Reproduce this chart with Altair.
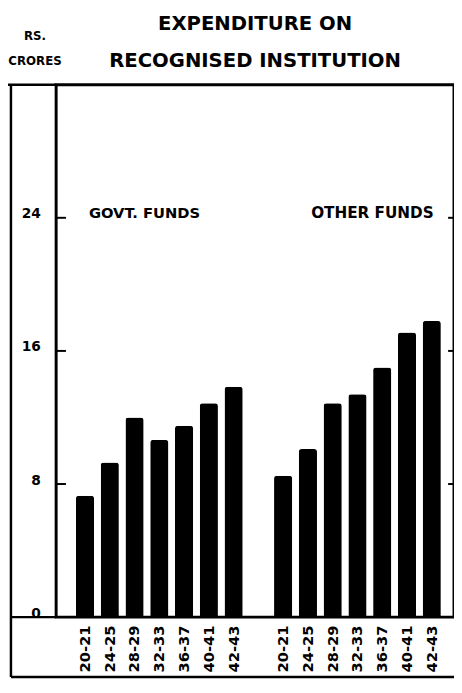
import altair as alt
import pandas as pd

years = ["20-21", "24-25", "28-29", "32-33", "36-37", "40-41", "42-43"]
govt_funds = [7.3, 9.3, 12.0, 10.65, 11.5, 12.85, 13.85]
other_funds = [8.5, 10.1, 12.85, 13.4, 15.0, 17.1, 17.8]
group_names = ["GOVT. FUNDS", "OTHER FUNDS"]
y_tick_values = [0, 8, 16, 24]
inner_ticks = [8, 16, 24]
title_lines = ["EXPENDITURE ON", "RECOGNISED INSTITUTION"]
unit_lines = ["RS.", "CRORES"]

rows = []
for yr, v in zip(years, govt_funds):
    rows.append({"key": "G" + yr, "year": yr, "fund": group_names[0], "value": v})
for yr, v in zip(years, other_funds):
    rows.append({"key": "O" + yr, "year": yr, "fund": group_names[1], "value": v})
df = pd.DataFrame(rows)
domain = ["G" + y for y in years] + ["GAP"] + ["O" + y for y in years]

W, H = 405, 542
BOTTOM = 603
FONT = "DejaVu Sans"

xscale = alt.Scale(domain=domain, paddingInner=0.266, paddingOuter=0.665, align=0.6)
yscale = alt.Scale(domain=[0, 32], nice=False)

xaxis = alt.Axis(
    title=None,
    labelExpr="datum.value == 'GAP' ? '' : slice(datum.value, 1)",
    labelAngle=270, labelAlign="right", labelBaseline="middle",
    labelPadding=8, ticks=False, domain=False,
    labelFont=FONT, labelFontWeight="bold", labelFontSize=15, labelColor="black",
)
yaxis = alt.Axis(
    values=y_tick_values, grid=False, ticks=False, domain=False,
    labelFont=FONT, labelFontWeight="bold", labelFontSize=14, labelColor="black",
    labelBaseline="alphabetic", labelPadding=16,
    title=unit_lines, titleAngle=0, titleAlign="center", titleBaseline="alphabetic",
    titleX=-22, titleY=-46, titleFont=FONT, titleFontSize=12, titleFontWeight="bold",
    titleColor="black", titleLineHeight=25,
)

bars = alt.Chart(df).mark_bar(color="black", cornerRadiusTopLeft=3, cornerRadiusTopRight=3).encode(
    x=alt.X("key:N", scale=xscale, axis=xaxis),
    y=alt.Y("value:Q", scale=yscale, axis=yaxis),
)

tick_df = pd.DataFrame({"v": inner_ticks})
left_ticks = alt.Chart(tick_df).mark_rule(color="black", strokeWidth=2).encode(
    y=alt.Y("v:Q", scale=yscale), x=alt.value(0), x2=alt.value(10)
)
right_ticks = alt.Chart(tick_df).mark_rule(color="black", strokeWidth=2).encode(
    y=alt.Y("v:Q", scale=yscale), x=alt.value(W - 6), x2=alt.value(W)
)

lab_df = pd.DataFrame({"key": ["G" + years[0], "O" + years[-1]], "label": group_names})
govt_label = alt.Chart(lab_df.iloc[[0]]).mark_text(
    align="left", baseline="alphabetic", dx=4, font=FONT, fontWeight="bold", fontSize=15, color="black"
).encode(x=alt.X("key:N", scale=xscale), y=alt.datum(24), text="label:N")
other_label = alt.Chart(lab_df.iloc[[1]]).mark_text(
    align="right", baseline="alphabetic", dx=2, font=FONT, fontWeight="bold", fontSize=15.5, color="black"
).encode(x=alt.X("key:N", scale=xscale), y=alt.datum(24), text="label:N")

one = pd.DataFrame({"a": [0]})
frame_left = alt.Chart(one).mark_rule(color="black", strokeWidth=2.5).encode(
    x=alt.value(-46), y=alt.value(0), y2=alt.value(BOTTOM))
frame_top = alt.Chart(one).mark_rule(color="black", strokeWidth=2.5).encode(
    x=alt.value(-52), x2=alt.value(0), y=alt.value(0))
frame_mid = alt.Chart(one).mark_rule(color="black", strokeWidth=2.5).encode(
    x=alt.value(-46), x2=alt.value(0), y=alt.value(H))
frame_bottom = alt.Chart(one).mark_rule(color="black", strokeWidth=2.5).encode(
    x=alt.value(-46), x2=alt.value(W), y=alt.value(BOTTOM))

chart = alt.layer(
    bars, left_ticks, right_ticks, govt_label, other_label,
    frame_left, frame_top, frame_mid, frame_bottom,
).properties(
    width=W, height=H,
    padding={"left": 49, "top": 72, "right": 0, "bottom": 63},
    autosize=alt.AutoSizeParams(type="none"),
    background="white",
    title=alt.TitleParams(
        title_lines, anchor="middle", frame="group", font=FONT, fontSize=20,
        fontWeight="bold", lineHeight=38, color="black", offset=8, dy=50,
    ),
).configure_view(stroke="black", strokeWidth=3)

chart.save("out.html", embed_options={"renderer": "svg", "actions": False})
